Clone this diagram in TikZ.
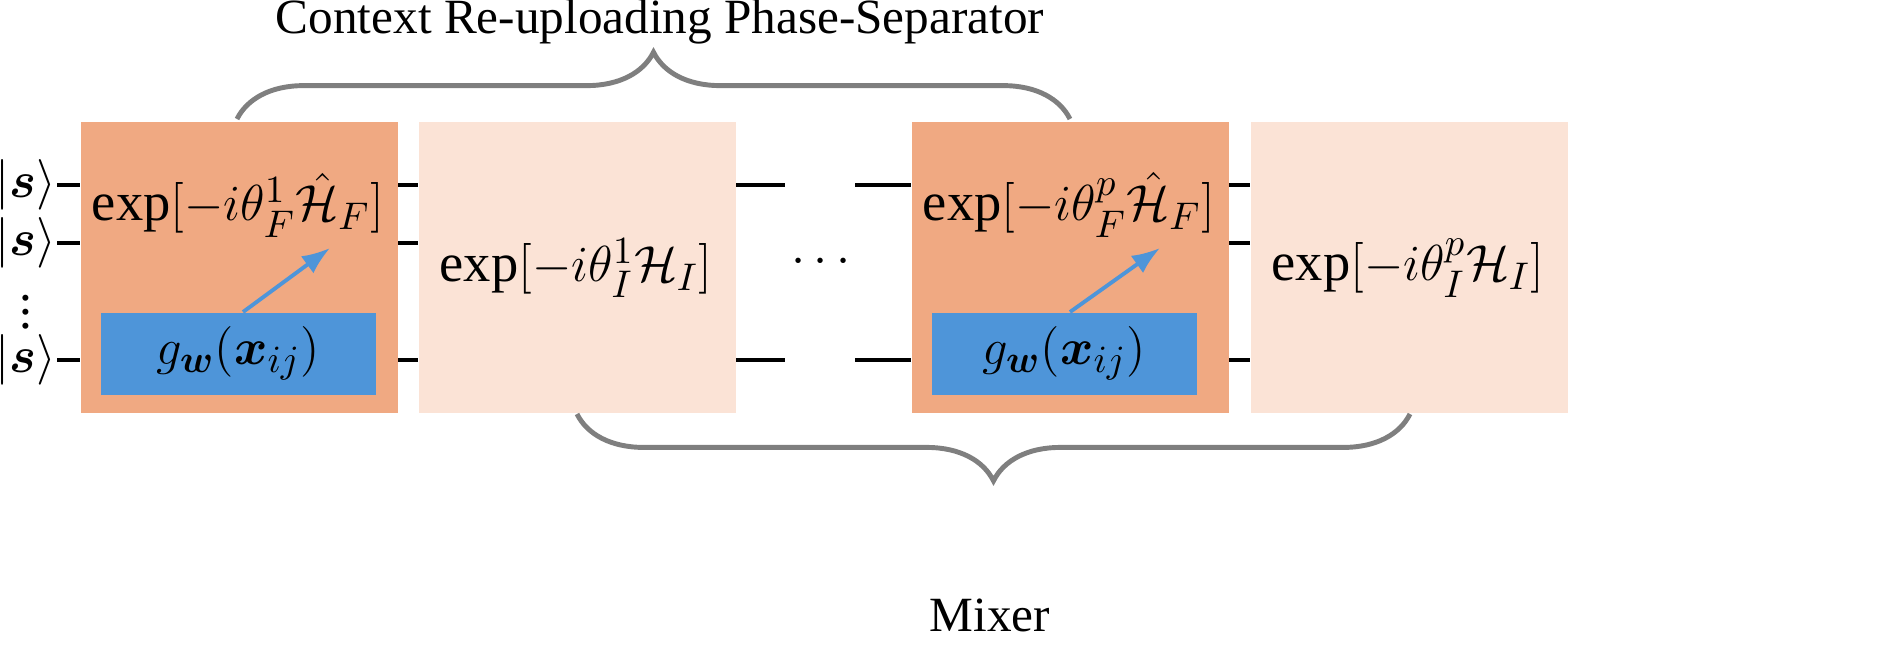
\documentclass[tikz,border=0pt]{standalone}
\usepackage{amsmath,bm}
\usepackage{fontspec}
\setmainfont{Liberation Serif}
\usetikzlibrary{decorations.pathreplacing,arrows.meta}
\definecolor{dark}{HTML}{F0A982}
\definecolor{light}{HTML}{FBE3D6}
\definecolor{blu}{HTML}{4E95D9}
\definecolor{brc}{HTML}{7F7F7F}
\begin{document}
\begin{tikzpicture}[x=0.01cm,y=-0.01cm,
  box/.style={draw=none,minimum width=317*0.01cm,minimum height=291*0.01cm,inner sep=0},
  gbox/.style={fill=blu,minimum width=275*0.01cm,minimum height=82*0.01cm,inner sep=0},
  wire/.style={line width=0.9pt},
  brace/.style={draw=brc,line width=1.4pt,decorate,decoration={brace,amplitude=19pt,aspect=0.5}},
  arr/.style={draw=blu,line width=1.1pt,-{Latex[length=8pt,width=6pt]}},
  lbl/.style={font=\fontsize{15.5}{18}\selectfont,inner sep=0pt},
  sl/.style={font=\fontsize{14.5}{16}\selectfont,inner sep=0pt},
  tx/.style={font=\fontsize{14}{17}\selectfont}]
\useasboundingbox (0,0) rectangle (1890,644);
% wires
\foreach \y in {185,243,360}{
  \draw[wire] (57,\y) -- (80,\y);
  \draw[wire] (397,\y) -- (418,\y);
  \draw[wire] (1228,\y) -- (1250,\y);}
\foreach \y in {185,360}{
  \draw[wire] (735,\y) -- (785,\y);
  \draw[wire] (855,\y) -- (911,\y);}
\node[box,fill=dark,anchor=north west] (b1) at (80,121) {};
\node[box,fill=light,anchor=north west] (b2) at (418,121) {};
\node[box,fill=dark,anchor=north west] (b3) at (911,121) {};
\node[box,fill=light,anchor=north west] (b4) at (1250,121) {};
\node[gbox,anchor=north west] (g1) at (100,312) {};
\node[gbox,anchor=north west,minimum width=265*0.01cm] (g2) at (931,312) {};
\node[lbl] at (g1.center) {$g_{\bm w}(\bm x_{ij})$};
\node[lbl] at (g2.center) {$g_{\bm w}(\bm x_{ij})$};
\node[lbl] (e1) at (238,205) {$\exp[-i\theta_F^1\hat{\mathcal H}_F]$};
\node[lbl] (e2) at (576,268) {$\exp[-i\theta_I^1\mathcal H_I]$};
\node[lbl] (e3) at (1069,205) {$\exp[-i\theta_F^p\hat{\mathcal H}_F]$};
\node[lbl] (e4) at (1408,268) {$\exp[-i\theta_I^p\mathcal H_I]$};
\coordinate (a1) at (330,248); \coordinate (a2) at (1160,248);
\draw[arr] (243,312) -- (a1);
\draw[arr] (1070,312) -- (a2);
\node[lbl] (d) at (825,262) {$\cdots$};
\node[sl] (s1) at (26,185) {$|\bm s\rangle$};
\node[sl] (s2) at (26,243) {$|\bm s\rangle$};
\node[sl] (s3) at (26,360) {$|\bm s\rangle$};
\node[sl] (vd) at (26,302) {$\vdots$};
% braces
\coordinate (t1) at (237,119); \coordinate (t2) at (1070,119);
\draw[brace] (t1) -- (t2);
\coordinate (m1) at (1410,414); \coordinate (m2) at (577,414);
\draw[brace] (m1) -- (m2);
\node[tx] (title) at (660,22) {Context Re-uploading Phase-Separator};
\node[tx] (mixer) at (990,615) {Mixer};
\end{tikzpicture}
\end{document}
